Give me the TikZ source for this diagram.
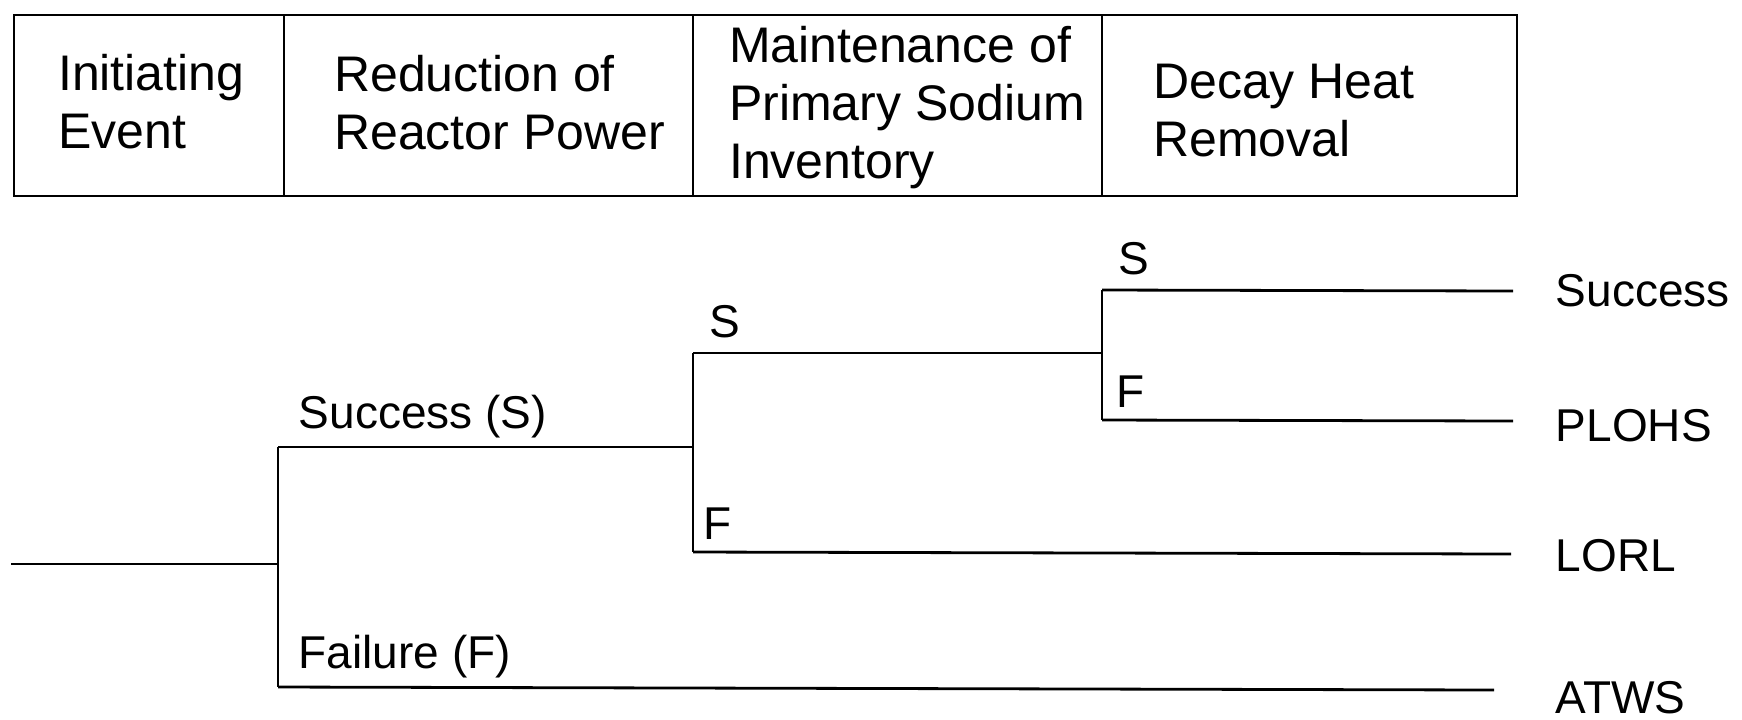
\documentclass[tikz,border=0pt]{standalone}
\usepackage{fontspec}
\setmainfont{Liberation Sans}
\usepackage{tikz}
\usetikzlibrary{positioning}

\tikzset{
	head/.style={anchor=west, align=left, font=\fontsize{12.5}{14.5}\selectfont},
	branch/.style={anchor=south west, inner sep=0pt, font=\fontsize{11.5}{13}\selectfont},
	outcome/.style={anchor=west, inner sep=0pt, font=\fontsize{11.5}{13}\selectfont},
	line/.style={line width=0.7pt}
}

\begin{document}
\begin{tikzpicture}[x=0.25pt, y=-0.25pt]
	  			\useasboundingbox (0,0) rectangle (1742,719);

	  			\draw[line] (14,15) rectangle (1517,196);
	  			\draw[line] (284,15) -- (284,196);
	  			\draw[line] (693,15) -- (693,196);
	  			\draw[line] (1102,15) -- (1102,196);

	  			\node[head] (ie) at (44,102) {Initiating\\Event};
	  			\node[head] (rp) at (320,103) {Reduction of\\Reactor Power};
	  			\node[head] (ps) at (715,108) {Maintenance of\\Primary Sodium\\Inventory};
	  			\node[head] (dh) at (1139,111) {Decay Heat\\Removal};

	  			\coordinate (start) at (11,564);
	  			\coordinate (a) at (278,564);
	  			\coordinate (aS) at (278,447);
	  			\coordinate (aF) at (278,687);
	  			\coordinate (b) at (693,447);
	  			\coordinate (bS) at (693,353);
	  			\coordinate (bF) at (693,552);
	  			\coordinate (c) at (1102,353);
	  			\coordinate (cS) at (1102,290);
	  			\coordinate (cF) at (1102,420);
	  			\coordinate (endcS) at (1513,291);
	  			\coordinate (endcF) at (1513,421);
	  			\coordinate (endbF) at (1511,554);
	  			\coordinate (endaF) at (1494,690);

	  			\node[outcome] (ok) at (1555,291) {Success};
	  			\node[outcome] (plohs) at (1555,426) {PLOHS};
	  			\node[outcome] (lorl) at (1555,556) {LORL};
	  			\node[outcome] (atws) at (1555,698) {ATWS};

	  			\draw[line] (start) -- (a);
	  			\draw[line] (aS) -- (aF);
	  			\draw[line] (aS) -- (b);
	  			\draw[line] (aF) -- (endaF);
	  			\draw[line] (bS) -- (bF);
	  			\draw[line] (bS) -- (c);
	  			\draw[line] (bF) -- (endbF);
	  			\draw[line] (cS) -- (cF);
	  			\draw[line] (cS) -- (endcS);
	  			\draw[line] (cF) -- (endcF);

	  			\node[branch] (lblaS) at ([xshift=5pt,yshift=2pt]aS) {Success (S)};
	  			\node[branch] (lblaF) at ([xshift=5pt,yshift=2pt]aF) {Failure (F)};
	  			\node[branch] (lblbS) at ([xshift=4pt,yshift=3.5pt]bS) {S};
	  			\node[branch] (lblbF) at ([xshift=2.5pt,yshift=3pt]bF) {F};
	  			\node[branch] (lblcS) at ([xshift=4pt,yshift=3.5pt]cS) {S};
	  			\node[branch] (lblcF) at ([xshift=3.5pt,yshift=3pt]cF) {F};
	  		\end{tikzpicture}
\end{document}
